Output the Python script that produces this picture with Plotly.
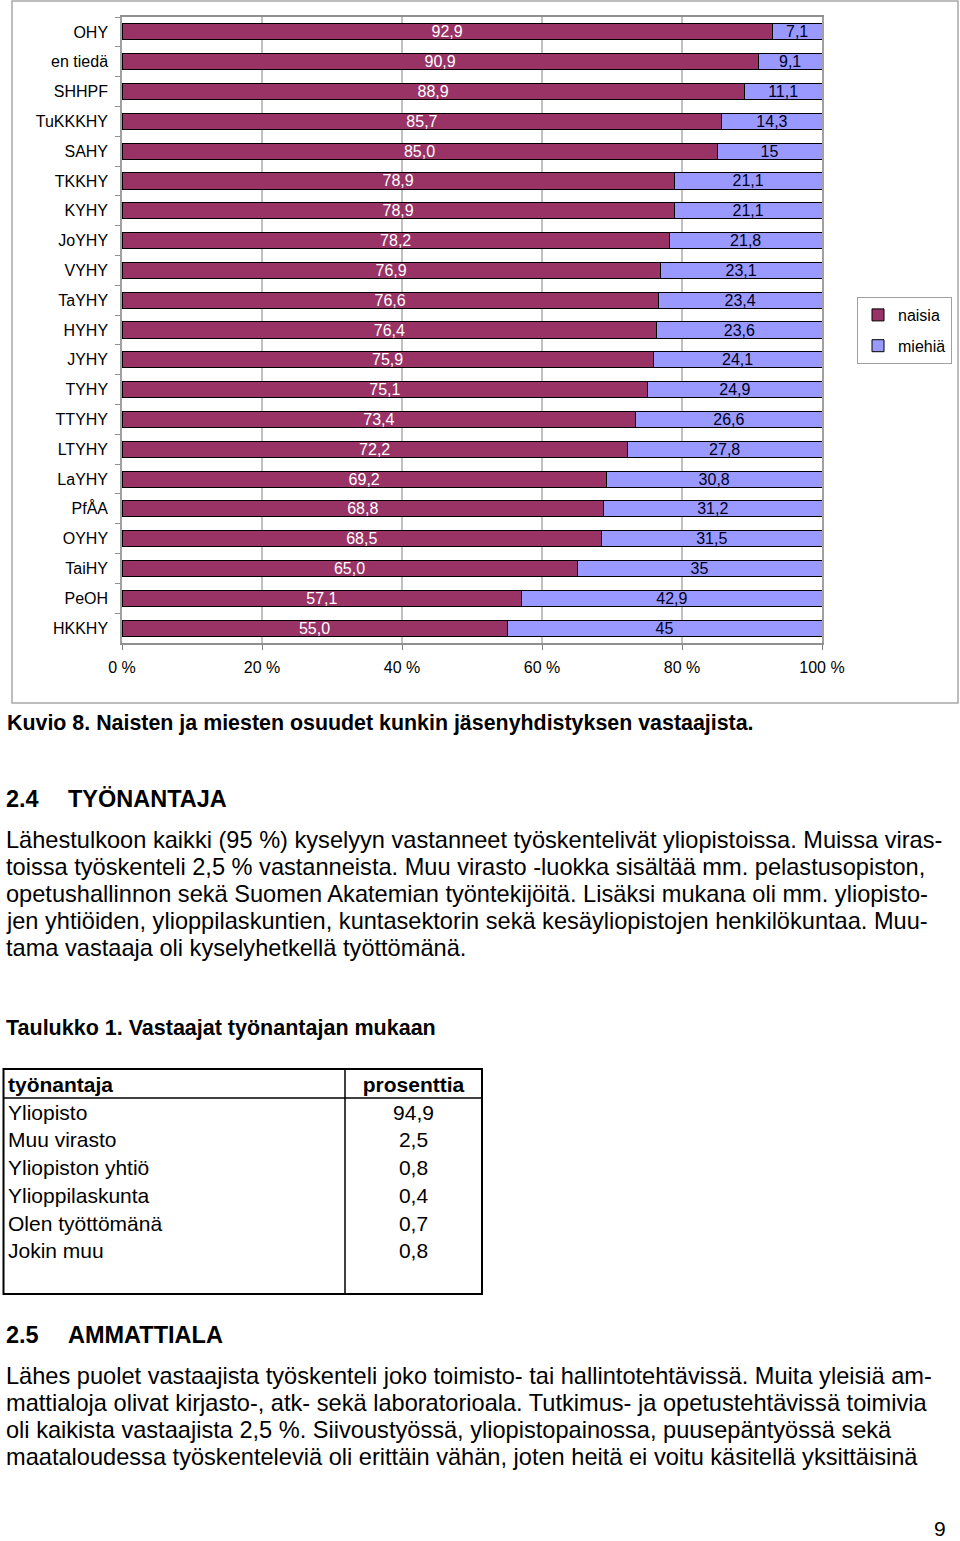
import plotly.graph_objects as go

W, H = 960, 1541
FONT = "Liberation Sans, Arial, sans-serif"

# ---------------- data ----------------
categories = ["OHY", "en tiedä", "SHHPF", "TuKKKHY", "SAHY", "TKKHY", "KYHY", "JoYHY",
              "VYHY", "TaYHY", "HYHY", "JYHY", "TYHY", "TTYHY", "LTYHY", "LaYHY",
              "PfÅA", "OYHY", "TaiHY", "PeOH", "HKKHY"]
naisia = [92.9, 90.9, 88.9, 85.7, 85.0, 78.9, 78.9, 78.2, 76.9, 76.6, 76.4, 75.9,
          75.1, 73.4, 72.2, 69.2, 68.8, 68.5, 65.0, 57.1, 55.0]
miehia = [7.1, 9.1, 11.1, 14.3, 15, 21.1, 21.1, 21.8, 23.1, 23.4, 23.6, 24.1,
          24.9, 26.6, 27.8, 30.8, 31.2, 31.5, 35, 42.9, 45]
naisia_labels = [f"{v:.1f}".replace(".", ",") for v in naisia]
miehia_labels = [f"{v:g}".replace(".", ",") for v in miehia]
x_tickvals = [0, 20, 40, 60, 80, 100]
x_ticktext = ["0 %", "20 %", "40 %", "60 %", "80 %", "100 %"]

table_headers = ["työnantaja", "prosenttia"]
table_employer = ["Yliopisto", "Muu virasto", "Yliopiston yhtiö", "Ylioppilaskunta",
                  "Olen työttömänä", "Jokin muu"]
table_percent = ["94,9", "2,5", "0,8", "0,4", "0,7", "0,8"]

caption = "Kuvio 8. Naisten ja miesten osuudet kunkin jäsenyhdistyksen vastaajista."
para1 = ["Lähestulkoon kaikki (95 %) kyselyyn vastanneet työskentelivät yliopistoissa. Muissa viras-",
         "toissa työskenteli 2,5 % vastanneista. Muu virasto -luokka sisältää mm. pelastusopiston,",
         "opetushallinnon sekä Suomen Akatemian työntekijöitä. Lisäksi mukana oli mm. yliopisto-",
         "jen yhtiöiden, ylioppilaskuntien, kuntasektorin sekä kesäyliopistojen henkilökuntaa. Muu-",
         "tama vastaaja oli kyselyhetkellä työttömänä."]
para2 = ["Lähes puolet vastaajista työskenteli joko toimisto- tai hallintotehtävissä. Muita yleisiä am-",
         "mattialoja olivat kirjasto-, atk- sekä laboratorioala. Tutkimus- ja opetustehtävissä toimivia",
         "oli kaikista vastaajista 2,5 %. Siivoustyössä, yliopistopainossa, puusepäntyössä sekä",
         "maataloudessa työskenteleviä oli erittäin vähän, joten heitä ei voitu käsitellä yksittäisinä"]


def px(x):
    return x / W


def py(y):
    return 1 - y / H


fig = go.Figure()

fig.add_trace(go.Bar(
    y=categories, x=naisia, orientation="h", name="naisia",
    marker=dict(color="#993366", line=dict(color="#000000", width=1)),
    text=naisia_labels, textposition="inside", insidetextanchor="middle",
    textangle=0, constraintext="none",
    textfont=dict(color="white", size=16, family=FONT),
    legendgroup="a", hoverinfo="x+y",
))
fig.add_trace(go.Bar(
    y=categories, x=miehia, orientation="h", name="miehiä",
    marker=dict(color="#9999FF", line=dict(color="#000000", width=1)),
    text=miehia_labels, textposition="inside", insidetextanchor="middle",
    textangle=0, constraintext="none",
    textfont=dict(color="#000022", size=16, family=FONT),
    legendgroup="b", hoverinfo="x+y",
))

# table
fig.add_trace(go.Table(
    domain=dict(x=[0, px(482)], y=[py(1294), py(1068)]),
    columnwidth=[345, 137],
    header=dict(values=table_headers, height=28,
                align=["left", "center"],
                line=dict(width=0, color="white"), fill_color="white",
                font=dict(family=FONT, size=21, color="black", weight="bold")),
    cells=dict(values=[table_employer, table_percent],
               align=["left", "center"], height=27.7,
               fill_color="white", line=dict(width=0, color="white"),
               font=dict(family=FONT, size=21, color="black")),
))

fig.update_layout(
    width=W, height=H, autosize=False,
    margin=dict(l=0, r=0, t=0, b=0, autoexpand=False),
    paper_bgcolor="white", plot_bgcolor="white",
    barmode="stack", bargap=0.46,
    font=dict(family=FONT, size=16, color="black"),
    showlegend=True,
    legend=dict(x=px(952), y=py(297), xanchor="right", yanchor="top",
                bordercolor="#a0a0a0", borderwidth=1, bgcolor="white",
                font=dict(size=16, family=FONT), tracegroupgap=7,
                traceorder="grouped", itemwidth=30),
    xaxis=dict(domain=[px(122), px(822)], range=[0, 100], automargin=False,
               tickvals=x_tickvals, ticktext=x_ticktext,
               showgrid=True, gridcolor="#c0c0c0", gridwidth=1.5,
               zeroline=False,
               ticks="outside", ticklen=5, tickcolor="#808080",
               showline=True, linecolor="#909090", linewidth=2, mirror=True,
               ticklabelstandoff=4, fixedrange=True,
               tickfont=dict(size=16, family=FONT)),
    yaxis=dict(domain=[py(643), py(17)], type="category", autorange="reversed",
               automargin=False,
               tickson="boundaries", ticks="outside", ticklen=5, tickcolor="#909090",
               showline=True, linecolor="#a0a0a0", linewidth=1.5, mirror=True,
               showgrid=False, ticklabelstandoff=9, fixedrange=True,
               tickfont=dict(size=16, family=FONT)),
)

# chart frame
fig.add_shape(type="rect", xref="paper", yref="paper",
              x0=px(12), x1=px(958), y0=py(703), y1=py(1),
              line=dict(color="#a8a8a8", width=1.5), layer="below")

# table borders
tbl_line = dict(color="black", width=1.5)
fig.add_shape(type="rect", xref="paper", yref="paper",
              x0=px(3.5), x1=px(482), y0=py(1294), y1=py(1069),
              line=dict(color="black", width=2))
fig.add_shape(type="line", xref="paper", yref="paper",
              x0=px(3.5), x1=px(482), y0=py(1098), y1=py(1098), line=tbl_line)
fig.add_shape(type="line", xref="paper", yref="paper",
              x0=px(345), x1=px(345), y0=py(1294), y1=py(1069), line=tbl_line)


def text(x, y, s, size=20, bold=False, anchor="left"):
    fig.add_annotation(x=px(x), y=py(y), xref="paper", yref="paper",
                       text=f"<b>{s}</b>" if bold else s, showarrow=False,
                       xanchor=anchor, yanchor="middle",
                       font=dict(family=FONT, size=size, color="black"))


text(5, 723, caption, size=21.4, bold=True)
text(4, 799, "2.4", size=23.5, bold=True)
text(66, 799, "TYÖNANTAJA", size=23.5, bold=True)
for i, line in enumerate(para1):
    text(4, 840 + i * 27, line, size=23.6)
text(4, 1028, "Taulukko 1. Vastaajat työnantajan mukaan", size=21.5, bold=True)
text(4, 1335, "2.5", size=23.5, bold=True)
text(66, 1335, "AMMATTIALA", size=23.5, bold=True)
for i, line in enumerate(para2):
    text(4, 1376 + i * 27, line, size=23.6)
text(940, 1528, "9", size=21, anchor="center")

fig.write_html("out.html", config={"displayModeBar": False},
               post_script="document.body.style.margin='0px';")
